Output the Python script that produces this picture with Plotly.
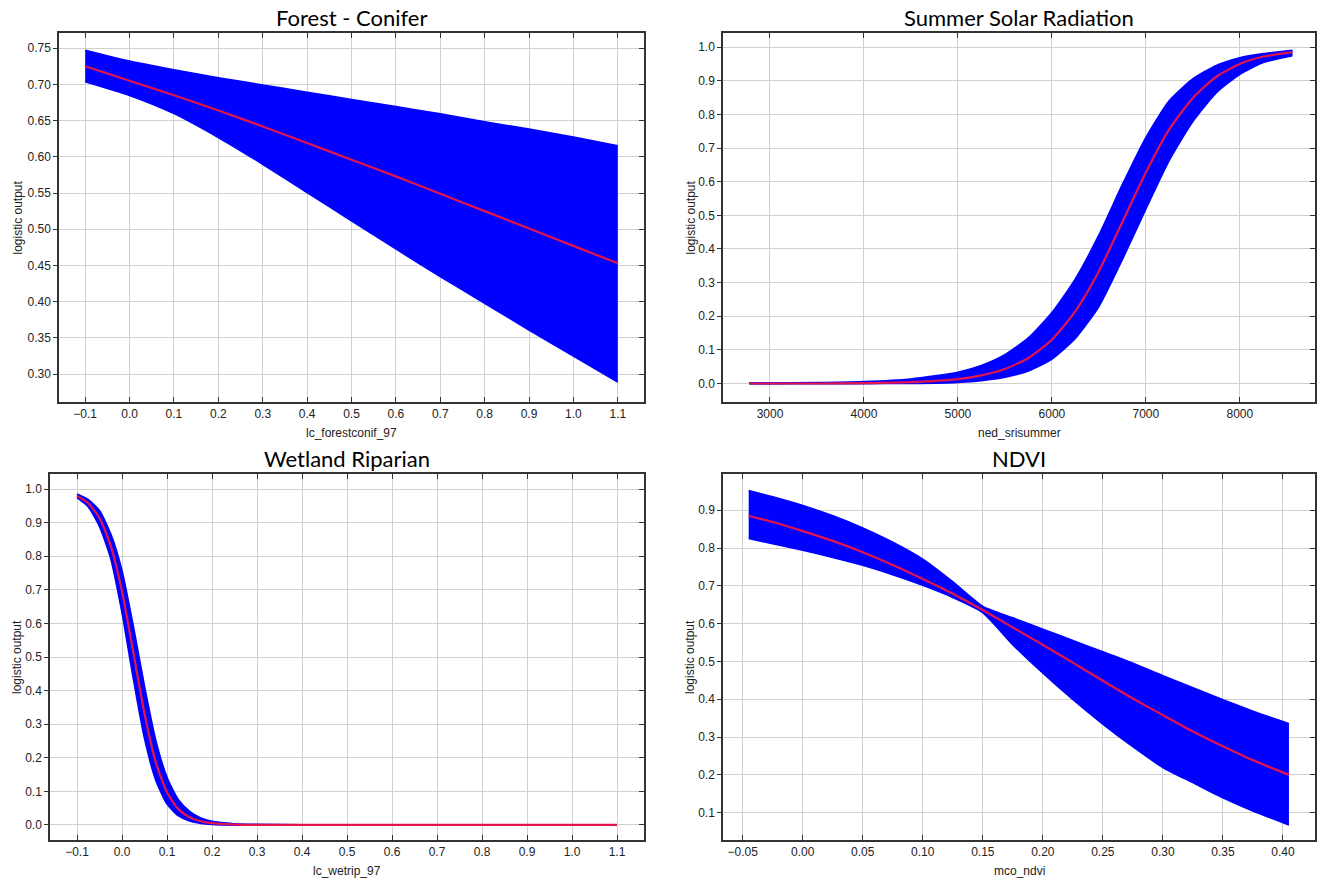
import plotly.graph_objects as go

# ---------------- data ----------------
titles = ["Forest - Conifer", "Summer Solar Radiation", "Wetland Riparian", "NDVI"]
xlabels = ["lc_forestconif_97", "ned_srisummer", "lc_wetrip_97", "mco_ndvi"]
ylabel = "logistic output"

x1 = [-0.1, 0.0, 0.1, 0.2, 0.3, 0.4, 0.5, 0.6, 0.7, 0.8, 0.9, 1.0, 1.1]
mean1 = [0.725, 0.705, 0.685, 0.664, 0.642, 0.619, 0.596, 0.573, 0.549, 0.525, 0.501, 0.477, 0.453]
upper1 = [0.747, 0.732, 0.720, 0.709, 0.699, 0.689, 0.679, 0.669, 0.659, 0.648, 0.638, 0.627, 0.615]
lower1 = [0.704, 0.685, 0.660, 0.627, 0.590, 0.551, 0.512, 0.473, 0.435, 0.398, 0.361, 0.325, 0.289]

x2 = [2780, 3000, 3500, 4000, 4500, 5000, 5250, 5500, 5750, 6000, 6250, 6500, 6750,
      7000, 7250, 7500, 7750, 8000, 8250, 8560]
mean2 = [0.000, 0.000, 0.000, 0.001, 0.004, 0.013, 0.024, 0.043, 0.076, 0.130, 0.215,
         0.334, 0.480, 0.627, 0.756, 0.849, 0.912, 0.950, 0.972, 0.985]
upper2 = [0.001, 0.001, 0.002, 0.005, 0.013, 0.033, 0.053, 0.085, 0.135, 0.210, 0.310,
          0.440, 0.590, 0.730, 0.840, 0.905, 0.945, 0.968, 0.980, 0.990]
lower2 = [0.000, 0.000, 0.000, 0.000, 0.001, 0.004, 0.009, 0.019, 0.038, 0.073, 0.135,
          0.230, 0.370, 0.520, 0.665, 0.780, 0.865, 0.920, 0.955, 0.975]

x3 = [-0.1, -0.075, -0.05, -0.025, 0.0, 0.025, 0.05, 0.075, 0.1, 0.125, 0.15, 0.175,
      0.2, 0.25, 0.3, 0.4, 0.5, 0.6, 0.7, 0.8, 0.9, 1.0, 1.1]
mean3 = [0.980, 0.958, 0.914, 0.831, 0.696, 0.515, 0.332, 0.187, 0.097, 0.047, 0.023,
         0.011, 0.005, 0.001, 0.000, 0.000, 0.000, 0.000, 0.000, 0.000, 0.000, 0.000, 0.000]
upper3 = [0.985, 0.968, 0.935, 0.865, 0.755, 0.590, 0.410, 0.250, 0.140, 0.075, 0.040,
          0.020, 0.010, 0.003, 0.001, 0.000, 0.000, 0.000, 0.000, 0.000, 0.000, 0.000, 0.000]
lower3 = [0.975, 0.948, 0.890, 0.795, 0.635, 0.440, 0.260, 0.135, 0.063, 0.028, 0.012,
          0.005, 0.002, 0.000, 0.000, 0.000, 0.000, 0.000, 0.000, 0.000, 0.000, 0.000, 0.000]

x4 = [-0.045, -0.025, 0.0, 0.025, 0.05, 0.075, 0.1, 0.125, 0.15, 0.175, 0.2, 0.225,
      0.25, 0.275, 0.3, 0.325, 0.35, 0.375, 0.405]
mean4 = [0.885, 0.869, 0.845, 0.819, 0.789, 0.755, 0.718, 0.679, 0.636, 0.590, 0.544,
         0.497, 0.449, 0.402, 0.358, 0.315, 0.276, 0.239, 0.200]
upper4 = [0.952, 0.935, 0.912, 0.885, 0.853, 0.815, 0.770, 0.710, 0.645, 0.615, 0.585,
          0.555, 0.525, 0.495, 0.462, 0.430, 0.398, 0.368, 0.335]
lower4 = [0.826, 0.812, 0.795, 0.776, 0.755, 0.730, 0.702, 0.670, 0.630, 0.545, 0.470,
          0.400, 0.335, 0.275, 0.220, 0.180, 0.140, 0.105, 0.068]

xs = [x1, x2, x3, x4]
means = [mean1, mean2, mean3, mean4]
uppers = [upper1, upper2, upper3, upper4]
lowers = [lower1, lower2, lower3, lower4]

x_ranges = [[-0.159, 1.159], [2500, 8800], [-0.16, 1.16], [-0.0664, 0.4267]]
y_ranges = [[0.2614, 0.771], [-0.055, 1.042], [-0.045, 1.045], [0.0277, 0.996]]
x_dticks = [0.1, 1000, 0.1, 0.05]
y_dticks = [0.05, 0.1, 0.1, 0.1]
x_formats = [".1f", "d", ".1f", ".2f"]
y_formats = [".2f", ".1f", ".1f", ".1f"]
x_tick0 = [-0.1, 3000, -0.1, -0.05]

# ---------------- layout geometry ----------------
W, H = 1317, 886
px_left = [59, 723, 50, 723]
px_right = [644, 1315, 644, 1315]
px_top = [33, 33, 474, 474]
px_bottom = [402, 402, 840, 840]

BLUE = "#0000ff"
RED = "#e3144b"
GRID = "#d0d0d0"
TICKFONT = dict(family="Liberation Sans Narrow, Arial Narrow, Liberation Sans, Arial", size=12, color="#222222")

fig = go.Figure()
layout = dict(
    width=W, height=H,
    margin=dict(l=0, r=0, t=0, b=0),
    paper_bgcolor="white", plot_bgcolor="white",
    showlegend=False,
)
annotations = []

for i in range(4):
    n = i + 1
    xa = "x" if n == 1 else f"x{n}"
    ya = "y" if n == 1 else f"y{n}"
    yo = f"y{n + 4}"
    # band
    fig.add_trace(go.Scatter(x=xs[i], y=lowers[i], mode="lines",
                             line=dict(color=BLUE, width=2, shape="spline", smoothing=0.6),
                             xaxis=xa, yaxis=ya, hoverinfo="skip"))
    fig.add_trace(go.Scatter(x=xs[i], y=uppers[i], mode="lines", fill="tonexty",
                             fillcolor=BLUE,
                             line=dict(color=BLUE, width=2, shape="spline", smoothing=0.6),
                             xaxis=xa, yaxis=ya, hoverinfo="skip"))
    fig.add_trace(go.Scatter(x=xs[i], y=means[i], mode="lines",
                             line=dict(color=RED, width=2.2, shape="spline", smoothing=0.6),
                             xaxis=xa, yaxis=ya))
    # dummy for right-side overlay axis
    fig.add_trace(go.Scatter(x=[], y=[], xaxis=xa, yaxis=yo, showlegend=False))

    xd = [px_left[i] / W, px_right[i] / W]
    yd = [1 - px_bottom[i] / H, 1 - px_top[i] / H]
    xkey = "xaxis" if n == 1 else f"xaxis{n}"
    ykey = "yaxis" if n == 1 else f"yaxis{n}"
    layout[xkey] = dict(
        domain=xd, anchor=ya, range=x_ranges[i], tick0=x_tick0[i], dtick=x_dticks[i],
        tickformat=x_formats[i], showgrid=True, gridcolor=GRID, gridwidth=1,
        showline=True, linecolor="#333333", linewidth=1.5, mirror="ticks",
        ticks="inside", ticklen=5, tickcolor="#333333", tickfont=TICKFONT,
        zeroline=False, fixedrange=True,
    )
    layout[ykey] = dict(
        domain=yd, anchor=xa, range=y_ranges[i], dtick=y_dticks[i], tick0=0,
        tickformat=y_formats[i], showgrid=True, gridcolor=GRID, gridwidth=1,
        showline=True, linecolor="#333333", linewidth=1.5, mirror=True,
        ticks="outside", ticklen=4, tickcolor="#333333", tickfont=TICKFONT,
        zeroline=False, fixedrange=True,
    )
    layout[f"yaxis{n + 4}"] = dict(
        overlaying=ya, side="right", anchor=xa, range=y_ranges[i], dtick=y_dticks[i],
        tick0=0, showgrid=False, showline=False, zeroline=False, ticks="inside",
        ticklen=5, tickcolor="#333333", showticklabels=False, fixedrange=True,
    )

    cx = (px_left[i] + px_right[i]) / 2 / W
    # panel title
    annotations.append(dict(text=titles[i], x=cx, y=1 - (px_top[i] - 16) / H,
                            xref="paper", yref="paper", showarrow=False,
                            xanchor="center", yanchor="middle",
                            font=dict(family="Lato, Open Sans, sans-serif", size=22, color="black")))
    # x axis label
    annotations.append(dict(text=xlabels[i], x=cx, y=1 - (px_bottom[i] + 31) / H,
                            xref="paper", yref="paper", showarrow=False,
                            xanchor="center", yanchor="middle",
                            font=dict(family=TICKFONT["family"], size=12, color="#222222")))
    # y axis label
    ylx = 17 if i in (0, 2) else 690
    annotations.append(dict(text=ylabel, x=ylx / W,
                            y=1 - (px_top[i] + px_bottom[i]) / 2 / H,
                            xref="paper", yref="paper", showarrow=False, textangle=-90,
                            xanchor="center", yanchor="middle",
                            font=dict(family=TICKFONT["family"], size=12, color="#222222")))

layout["annotations"] = annotations
fig.update_layout(**layout)
fig.write_html("out.html", config={"displayModeBar": False},
               post_script="document.body.style.margin='0';")
